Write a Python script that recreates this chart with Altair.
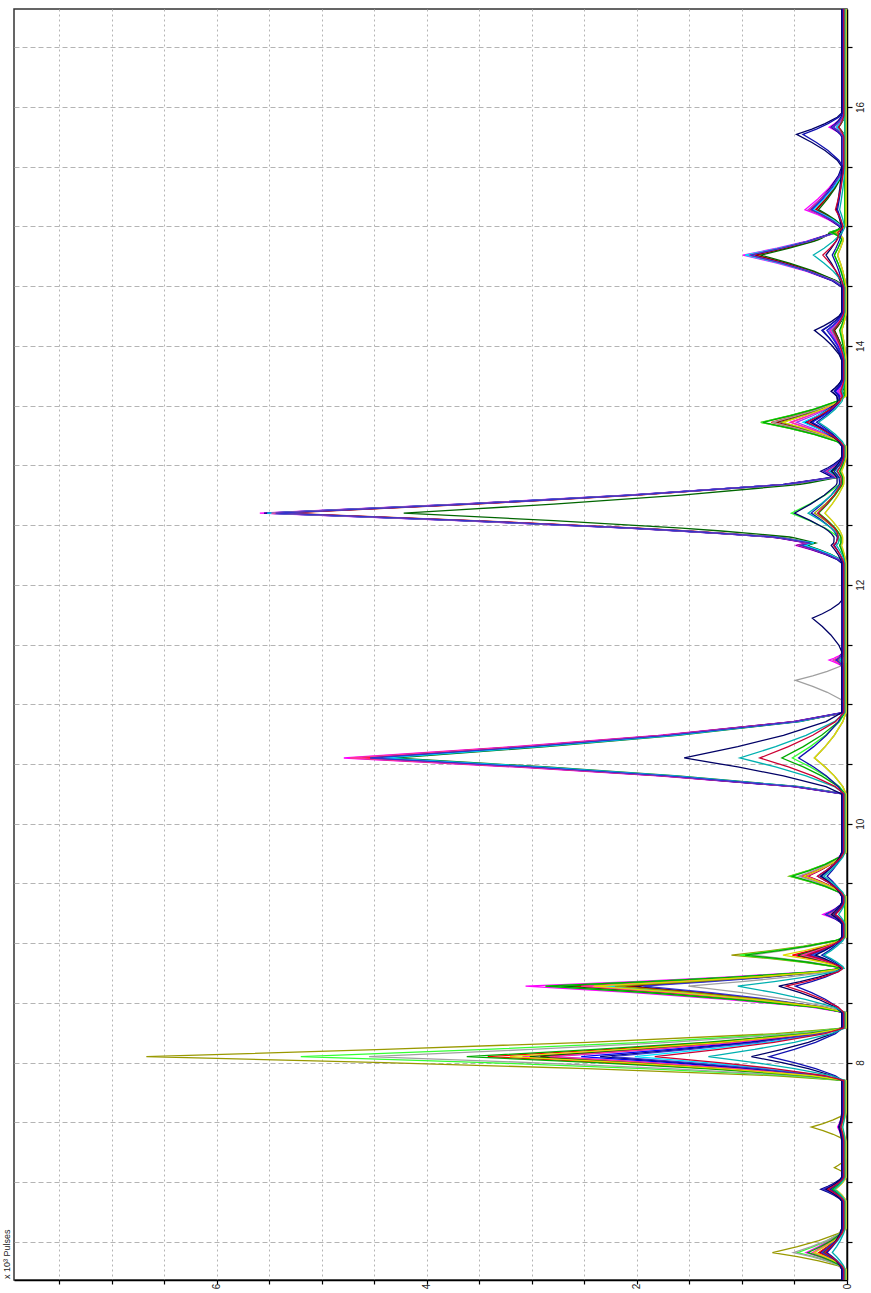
import altair as alt
import numpy as np
import pandas as pd

# Retention-time peaks (minutes) and their left / right base half-widths
PEAK_TIMES = [6.41, 6.94, 7.12, 7.46, 8.05, 8.64, 8.90, 9.24, 9.56, 10.55, 11.20, 11.37,
              11.72, 12.33, 12.60, 12.95, 13.36, 13.62, 14.13, 14.76, 14.95, 15.14, 15.77, 15.83]
PEAK_LEFT = [0.14, 0.10, 0.06, 0.12, 0.20, 0.22, 0.12, 0.08, 0.17, 0.30, 0.20, 0.06,
             0.28, 0.15, 0.25, 0.12, 0.20, 0.10, 0.25, 0.27, 0.06, 0.17, 0.27, 0.08]
PEAK_RIGHT = [0.20, 0.10, 0.08, 0.12, 0.24, 0.15, 0.15, 0.10, 0.20, 0.38, 0.15, 0.06,
              0.15, 0.12, 0.30, 0.12, 0.22, 0.10, 0.15, 0.23, 0.06, 0.36, 0.18, 0.10]

# Peak outline: relative position across the base, and fraction of apex height
PROFILE_POS = [-1.0, -0.8, -0.5, -0.25, 0.0, 0.25, 0.5, 0.8, 1.0]
PROFILE_FRAC = [0.0, 0.10, 0.37, 0.66, 1.0, 0.66, 0.37, 0.10, 0.0]

# Per trace: colour, baseline level and apex intensity (x 10^3 pulses) of every peak
TRACES = {
    "magenta":   ("#FF00FF", 0.04, [0.35, 0.18, 0, 0.05, 3.05, 3.02, 0.45, 0.19, 0.40, 4.75, 0, 0.13, 0, 0.45, 5.55, 0.18, 0.50, 0.05, 0.12, 0.95, 0, 0.36, 0, 0.13]),
    "violet":    ("#9933FF", 0.03, [0.28, 0.20, 0, 0.04, 2.75, 2.80, 0.40, 0.17, 0.35, 4.65, 0, 0.10, 0, 0.42, 5.50, 0.17, 0.45, 0.05, 0.14, 0.92, 0, 0.34, 0, 0.12]),
    "blue":      ("#0000FF", 0.03, [0.22, 0.19, 0, 0.03, 2.50, 2.30, 0.35, 0.16, 0.25, 4.55, 0, 0.08, 0, 0.40, 5.45, 0.16, 0.30, 0.08, 0.16, 0.90, 0, 0.30, 0, 0.10]),
    "navy":      ("#000080", 0.05, [0.20, 0.20, 0, 0.03, 2.30, 2.00, 0.30, 0.15, 0.20, 4.60, 0, 0.05, 0, 0.42, 5.50, 0.20, 0.35, 0.10, 0.18, 0.88, 0, 0.30, 0, 0.10]),
    "red":       ("#FF0000", 0.02, [0.25, 0.18, 0, 0.04, 3.40, 2.60, 0.50, 0.12, 0.40, 4.60, 0, 0.06, 0, 0.40, 5.40, 0.15, 0.70, 0.03, 0.10, 0.86, 0.05, 0.28, 0, 0.08]),
    "darkred":   ("#990000", 0.02, [0.22, 0.15, 0, 0.03, 2.90, 2.10, 0.42, 0.10, 0.35, 4.50, 0, 0.05, 0, 0.38, 5.35, 0.15, 0.65, 0.03, 0.10, 0.85, 0.05, 0.27, 0, 0.07]),
    "darkgreen": ("#006600", 0.02, [0.20, 0.15, 0, 0.04, 3.00, 2.70, 0.45, 0.10, 0.38, 4.30, 0, 0.05, 0, 0.36, 4.20, 0.12, 0.60, 0.02, 0.10, 0.80, 0.08, 0.25, 0, 0.06]),
    "cyan":      ("#00E0FF", 0.02, [0.18, 0.15, 0, 0.03, 2.00, 2.30, 0.30, 0.10, 0.25, 4.40, 0, 0.05, 0, 0.38, 5.50, 0.15, 0.40, 0.03, 0.12, 0.95, 0, 0.30, 0, 0.08]),
    "pink":      ("#FF3399", 0.03, [0.30, 0.17, 0, 0.04, 2.80, 2.50, 0.40, 0.15, 0.35, 4.70, 0, 0.10, 0, 0.43, 5.45, 0.17, 0.50, 0.04, 0.12, 0.90, 0, 0.33, 0, 0.11]),
    "slate":     ("#3333CC", 0.04, [0.20, 0.19, 0, 0.03, 2.20, 1.90, 0.30, 0.16, 0.20, 4.50, 0, 0.06, 0, 0.40, 5.40, 0.18, 0.30, 0.08, 0.15, 0.88, 0, 0.30, 0, 0.10]),
    "olive":     ("#999900", 0.01, [0.70, 0.12, 0.11, 0.33, 6.66, 2.20, 1.09, 0, 0.54, 0.30, 0, 0, 0, 0.05, 0.30, 0.05, 0.81, 0, 0.04, 0.08, 0.10, 0, 0, 0]),
    "lime":      ("#33FF33", 0.02, [0.45, 0.12, 0, 0.05, 5.18, 2.85, 1.00, 0, 0.52, 0.50, 0, 0, 0, 0.05, 0.51, 0.05, 0.80, 0, 0.04, 0.10, 0.13, 0, 0, 0]),
    "gray":      ("#A0A0A0", 0.01, [0.50, 0.10, 0, 0.05, 4.54, 1.50, 0.90, 0, 0.45, 0.30, 0.48, 0, 0, 0.05, 0.20, 0.05, 0.70, 0, 0.04, 0.08, 0.08, 0, 0, 0]),
    "green":     ("#00AA00", 0.02, [0.35, 0.12, 0, 0.05, 3.60, 2.85, 0.95, 0, 0.50, 0.60, 0, 0, 0, 0.05, 0.25, 0.05, 0.78, 0, 0.05, 0.10, 0.12, 0, 0, 0]),
    "yellow":    ("#DDDD00", 0.01, [0.30, 0.10, 0, 0.04, 3.20, 2.40, 0.60, 0, 0.40, 0.30, 0, 0, 0, 0.04, 0.20, 0.04, 0.60, 0, 0.04, 0.08, 0.08, 0, 0, 0]),
    "midnight":  ("#000066", 0.05, [0.15, 0.15, 0, 0.02, 0.86, 0.60, 0.25, 0.10, 0.20, 1.50, 0, 0, 0.28, 0.10, 0.45, 0.10, 0.30, 0.10, 0.26, 0.15, 0, 0.05, 0.43, 0]),
    "royal":     ("#1010B0", 0.04, [0.15, 0.12, 0, 0.02, 0.70, 0.45, 0.20, 0.08, 0.15, 0.42, 0, 0, 0, 0.08, 0.30, 0.08, 0.25, 0.08, 0.20, 0.10, 0, 0.05, 0.38, 0]),
    "teal":      ("#00B0B0", 0.02, [0.12, 0.10, 0, 0.02, 1.30, 1.02, 0.20, 0.06, 0.20, 1.00, 0, 0, 0, 0.08, 0.35, 0.08, 0.25, 0.03, 0.12, 0.30, 0, 0.05, 0, 0]),
    "crimson":   ("#CC0033", 0.03, [0.18, 0.15, 0, 0.03, 1.80, 0.55, 0.35, 0.08, 0.25, 0.80, 0, 0, 0, 0.10, 0.25, 0.06, 0.35, 0.03, 0.10, 0.20, 0.04, 0.08, 0, 0.05]),
}

T_MIN, T_MAX = 6.18, 16.82
I_MAX = 7.93
TIME_TICKS = [round(6.5 + 0.5 * k, 1) for k in range(21)]
INT_TICKS = [round(0.5 * k, 1) for k in range(16)]


def peak_outline(i):
    ts, vs = [], []
    for p, f in zip(PROFILE_POS, PROFILE_FRAC):
        w = PEAK_LEFT[i] if p < 0 else PEAK_RIGHT[i]
        ts.append(PEAK_TIMES[i] + p * w)
        vs.append(f)
    return np.array(ts), np.array(vs)


rows = []
for name, (_, base, heights) in TRACES.items():
    active = [i for i, h in enumerate(heights) if h > 0]
    knots = {T_MIN, T_MAX}
    outlines = {}
    for i in active:
        ts, fs = peak_outline(i)
        outlines[i] = (ts, fs * heights[i])
        knots.update(ts.tolist())
    for t in sorted(knots):
        v = base + sum(np.interp(t, ts, vs, left=0.0, right=0.0) for ts, vs in outlines.values())
        rows.append({"trace": name, "time": t, "pulses": float(v)})

df = pd.DataFrame(rows)

even_label = "datum.value % 2 == 0 ? format(datum.value, 'd') : ''"

lines = alt.Chart(df).mark_line(strokeWidth=1.3, clip=True).encode(
    x=alt.X(
        "pulses:Q",
        scale=alt.Scale(domain=[0, I_MAX], reverse=True, nice=False, zero=False),
        axis=alt.Axis(
            orient="bottom", values=INT_TICKS, title=None,
            labelExpr=even_label,
            labelAngle=270, labelAlign="center", labelBaseline="middle",
            labelPadding=2, gridDash=[2, 3], tickSize=4,
        ),
    ),
    y=alt.Y(
        "time:Q",
        scale=alt.Scale(domain=[T_MIN, T_MAX], nice=False, zero=False),
        axis=alt.Axis(
            orient="right", values=TIME_TICKS, title=None,
            labelExpr=even_label,
            labelAngle=270, labelAlign="center", labelBaseline="top",
            labelPadding=3, gridDash=[5, 3], tickSize=5,
        ),
    ),
    color=alt.Color(
        "trace:N",
        scale=alt.Scale(domain=list(TRACES.keys()), range=[c for c, _, _ in TRACES.values()]),
        legend=None,
    ),
    detail="trace:N",
    order="time:Q",
)

unit_label = alt.Chart(pd.DataFrame({"label": ["x 10³ Pulses"]})).mark_text(
    angle=270, align="left", baseline="middle", fontSize=9, color="#222",
    font="Liberation Sans",
).encode(x=alt.value(-7), y=alt.value(1270), text="label:N")

chart = alt.layer(lines, unit_label).properties(
    width=833, height=1271,
    padding={"left": 14, "top": 9, "right": 24, "bottom": 13},
    autosize=alt.AutoSizeParams(type="none"),
    background="white",
).configure_view(
    stroke="#333333", strokeWidth=1.5,
).configure_axis(
    domainColor="#000000", domainWidth=1.5,
    tickColor="#000000", tickWidth=1.2,
    gridColor="#B4B4B4", gridWidth=1,
    labelFont="Liberation Sans", labelFontSize=10, labelColor="#222222",
)

chart.save("out.html", embed_options={"renderer": "svg", "actions": False})
